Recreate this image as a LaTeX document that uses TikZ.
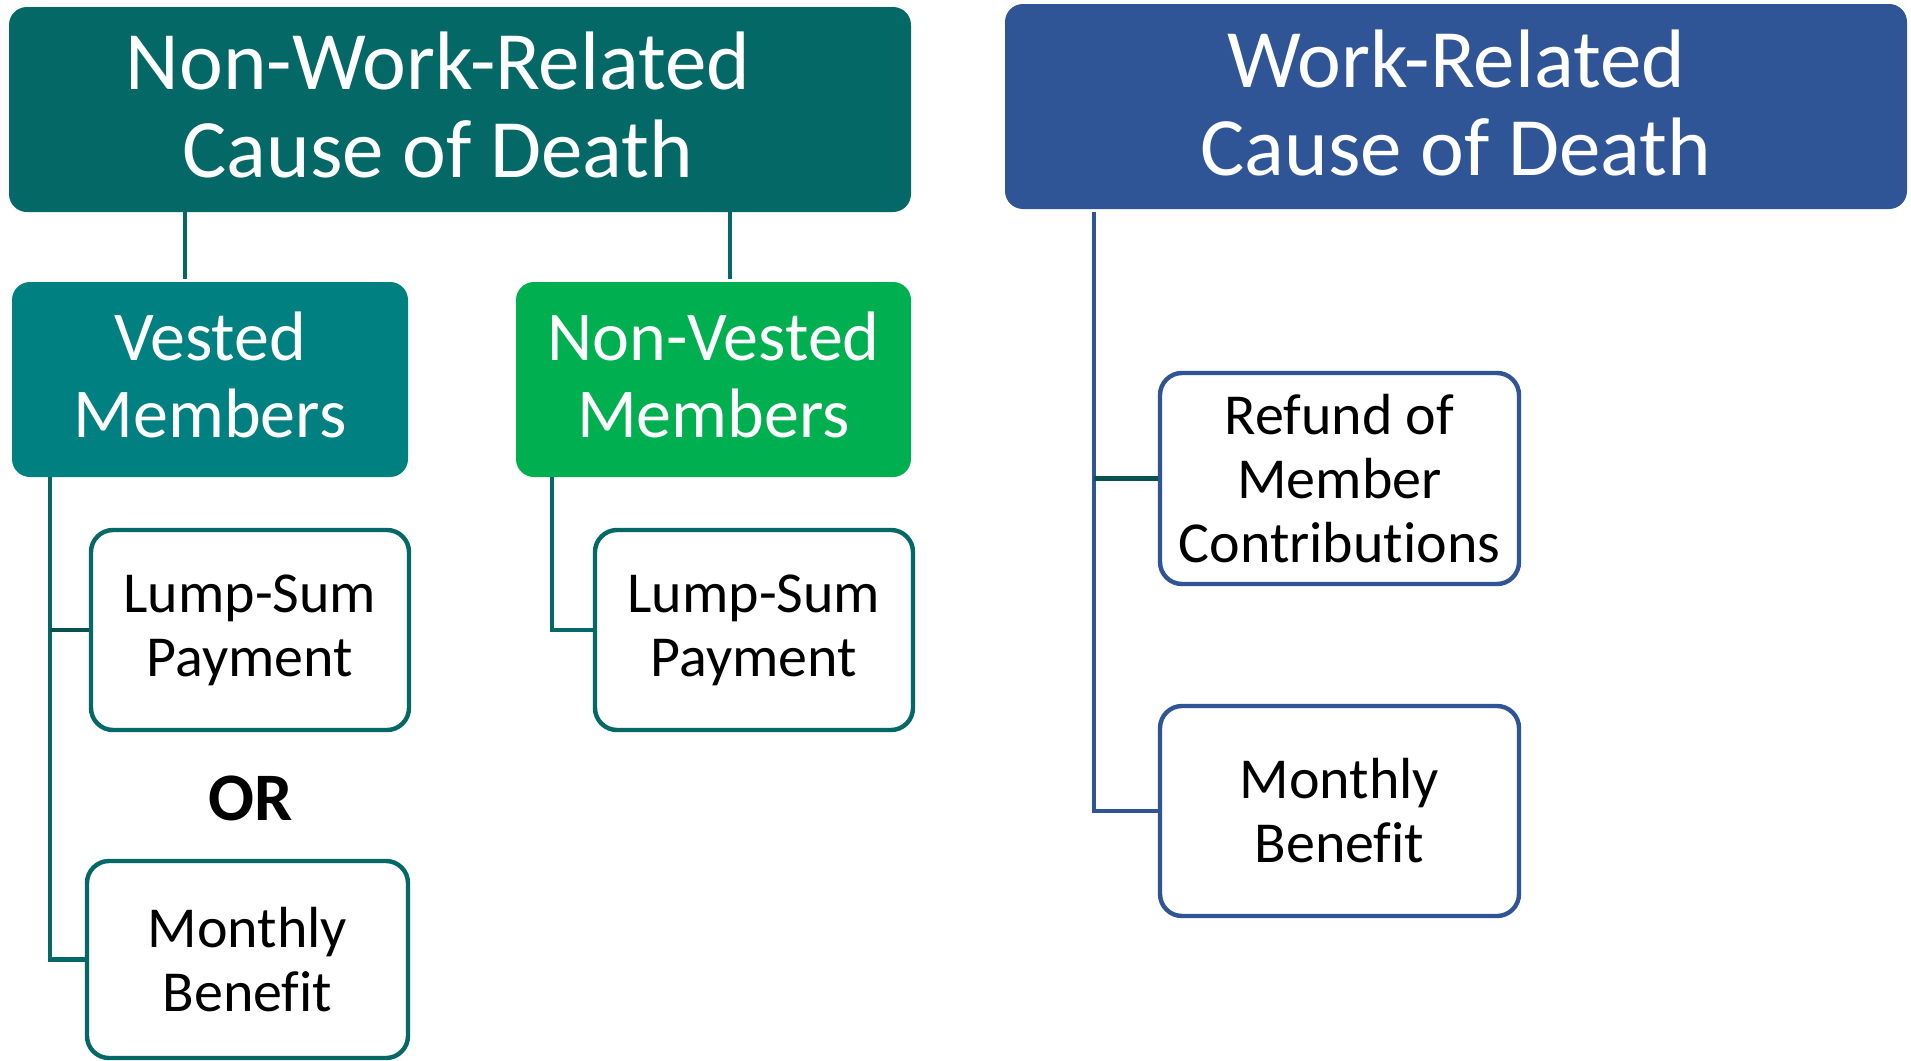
\documentclass[tikz,border=0pt]{standalone}
\usepackage{fontspec}
\setmainfont{Carlito}[Ligatures={NoCommon}]
\definecolor{tealdark}{RGB}{3,104,102}
\definecolor{tealmid}{RGB}{0,128,128}
\definecolor{greenbox}{RGB}{0,176,80}
\definecolor{bluebox}{RGB}{47,85,151}
\definecolor{stubcol}{RGB}{10,82,80}
\newcommand{\lowpad}[1]{\rule[-#1]{0pt}{#1}}
\tikzset{
  hdr/.style={fill=#1, draw=none, rounded corners=9pt, text=white, align=center,
    inner sep=0pt, minimum width=451pt, minimum height=102.5pt,
    font=\fontsize{41.5pt}{44pt}\selectfont},
  grp/.style={fill=#1, draw=none, rounded corners=9pt, text=white, align=center,
    inner sep=0pt, minimum width=198pt, minimum height=97.5pt,
    font=\fontsize{35pt}{38.5pt}\selectfont},
  leaf/.style={draw=#1, line width=2.2pt, fill=white, rounded corners=11pt,
    align=center, inner sep=0pt, minimum width=159pt, minimum height=100pt,
    font=\fontsize{29pt}{32pt}\selectfont},
  conn/.style={draw=#1, line width=2.3pt},
}
\begin{document}
\begin{tikzpicture}[x=0.5pt,y=-0.5pt]
\useasboundingbox (0,0) rectangle (1911,1060);
% headers
\node[hdr=tealdark] (ntop) at (460,109.5) {Non-Work-Related\kern22pt\\Cause of Death\kern22pt\lowpad{5pt}};
\node[hdr=bluebox] (wtop) at (1456,106.5) {Work-Related\\Cause of Death\lowpad{4pt}};
% groups
\node[grp=tealmid] (vested) at (210,379.5) {Vested\\Members\lowpad{5pt}};
\node[grp=greenbox, minimum width=197.5pt] (nonvested) at (713.5,379.5) {Non-Vested\\Members\lowpad{5pt}};
% leaves
\node[leaf=tealdark] (lump1) at (250,630) {Lump-Sum\\Payment};
\node[leaf=tealdark] (lump2) at (754,630) {Lump-Sum\\Payment};
\node[font=\fontsize{34pt}{38pt}\selectfont\bfseries, anchor=base, inner sep=0pt] (orlabel) at (250.5,820.7) {OR};
\node[leaf=tealdark, minimum width=160.5pt, minimum height=98.5pt] (month1) at (247.5,959.5) {Monthly\\Benefit};
\node[leaf=bluebox, minimum width=179.5pt, minimum height=105.5pt] (refund) at (1339.5,478.5) {Refund of\\Member\\Contributions};
\node[leaf=bluebox, minimum width=179.5pt, minimum height=105pt] (month2) at (1339.5,811) {Monthly\\Benefit};
% connectors
\draw[conn=tealdark] ([xshift=-12.5pt]vested.north |- ntop.south) -- ([xshift=-12.5pt,yshift=1.5pt]vested.north);
\draw[conn=tealdark] ([xshift=8.25pt]nonvested.north |- ntop.south) -- ([xshift=8.25pt,yshift=1.5pt]nonvested.north);
\draw[conn=tealdark] ([xshift=-80pt]vested.south) |- (month1.west);
\draw[conn=stubcol] ([xshift=-80pt]vested.south |- lump1.west) -- (lump1.west);
\draw[conn=tealdark] ([xshift=-80.75pt]nonvested.south) |- (lump2.west);
\draw[conn=bluebox] ([xshift=-181pt,yshift=-1.5pt]wtop.south) |- (month2.west);
\draw[conn=stubcol] ([xshift=-181pt]wtop.south |- refund.west) -- (refund.west);
\end{tikzpicture}
\end{document}
